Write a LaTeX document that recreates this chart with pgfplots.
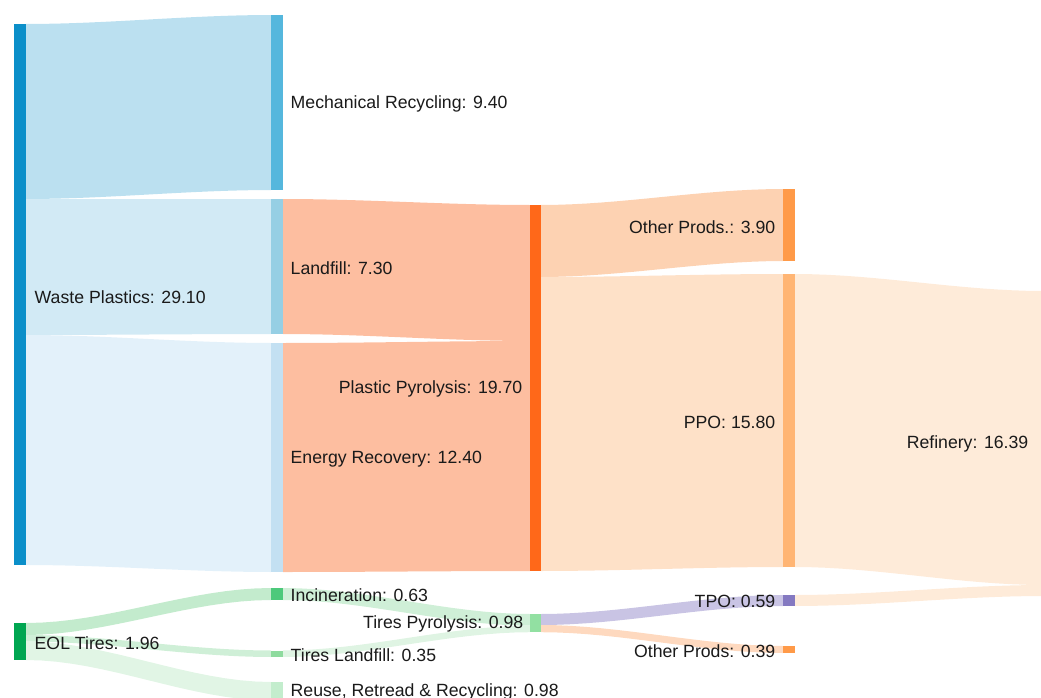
\documentclass[border=0pt]{standalone}
\usepackage{fontspec}
\setmainfont{Liberation Sans}
\usepackage{pgfplots}
\pgfplotsset{compat=1.18}

% node colours
\definecolor{nWaste}{HTML}{0B8FC9}
\definecolor{nMech}{HTML}{55B7DD}
\definecolor{nLand}{HTML}{96CFE4}
\definecolor{nEnergy}{HTML}{C3E0F2}
\definecolor{nPP}{HTML}{FF6819}
\definecolor{nOther}{HTML}{FF9A48}
\definecolor{nPPO}{HTML}{FFB574}
\definecolor{nTPO}{HTML}{8479C1}
\definecolor{nEOL}{HTML}{00A651}
\definecolor{nIncin}{HTML}{4DC97B}
\definecolor{nTLand}{HTML}{8EDB9E}
\definecolor{nReuse}{HTML}{C3EDCD}
\definecolor{nTP}{HTML}{92E0A2}
% link colours
\definecolor{fMech}{HTML}{BBE0F0}
\definecolor{fLand}{HTML}{D2EAF5}
\definecolor{fEnergy}{HTML}{E3F1FA}
\definecolor{fPP}{HTML}{FDBEA0}
\definecolor{fOther}{HTML}{FDD2B2}
\definecolor{fPPO}{HTML}{FEE1C8}
\definecolor{fRef}{HTML}{FEEBD9}
\definecolor{fIncin}{HTML}{C3EBCD}
\definecolor{fTLand}{HTML}{CFEFD7}
\definecolor{fReuse}{HTML}{E1F5E5}
\definecolor{fTP1}{HTML}{CFEFD7}
\definecolor{fTP2}{HTML}{DFF4E3}
\definecolor{fTPO}{HTML}{C9C4E4}
\definecolor{fOther2}{HTML}{FED9BF}
\definecolor{labc}{HTML}{1A1A1A}

% link band: x0, x1, source top, source bottom, target top, target bottom, colour
\newcommand{\flow}[7]{%
  \gdef\pts{}%
  \foreach \i in {0,...,16}{%
    \pgfmathsetmacro\u{\i/16}%
    \pgfmathsetmacro\xx{#1+\u*(#2-#1)}%
    \pgfmathsetmacro\yy{#3+(#5-#3)*(3*\u*\u-2*\u*\u*\u)}%
    \xdef\pts{\pts(\xx,\yy)}%
  }%
  \foreach \i in {16,...,0}{%
    \pgfmathsetmacro\u{\i/16}%
    \pgfmathsetmacro\xx{#1+\u*(#2-#1)}%
    \pgfmathsetmacro\yy{#4+(#6-#4)*(3*\u*\u-2*\u*\u*\u)}%
    \xdef\pts{\pts(\xx,\yy)}%
  }%
  \edef\tmp{\noexpand\addplot[draw=none,fill=#7] coordinates {\pts};}\tmp
}
% node rectangle: x0, x1, top, bottom, colour
\newcommand{\nodebar}[5]{%
  \addplot[draw=none,fill=#5] coordinates {(#1,#3) (#2,#3) (#2,#4) (#1,#4)};}

\tikzset{lab/.style={inner sep=0pt, text=labc, font=\fontsize{5.03}{6}\selectfont}}

\begin{document}
\begin{tikzpicture}
\begin{axis}[
    width=10.41cm, height=6.98cm, scale only axis,
    xmin=0, xmax=1041, ymin=0, ymax=698,
    y dir=reverse,
    hide axis,
    clip=true,
]
% links
\flow{26}{271}{24}{199}{15}{190}{fMech}
\flow{26}{271}{199}{335}{199}{334}{fLand}
\flow{26}{271}{335}{565}{343}{572}{fEnergy}
\flow{283}{530}{199}{334}{205}{341}{fPP}
\flow{283}{530}{343}{572}{341}{571}{fPP}
\flow{541}{783}{205}{277}{189}{261}{fOther}
\flow{541}{783}{277}{571}{274}{567}{fPPO}
\flow{795}{1043}{274}{567}{291}{585}{fRef}
\flow{795}{1043}{595}{606}{585}{596}{fRef}
\flow{26}{271}{623}{635}{588}{600}{fIncin}
\flow{26}{271}{635}{641.5}{650.5}{657}{fTLand}
\flow{26}{271}{641.5}{660}{682}{700.5}{fReuse}
\flow{283}{530}{588}{600}{614}{625.7}{fTP1}
\flow{283}{530}{650.5}{657}{625.7}{632.2}{fTP2}
\flow{541}{783}{614}{625}{595}{606}{fTPO}
\flow{541}{783}{625}{632.2}{646}{653}{fOther2}
% nodes
\nodebar{14}{26}{24}{565}{nWaste}
\nodebar{14}{26}{623}{660}{nEOL}
\nodebar{271}{283}{15}{190}{nMech}
\nodebar{271}{283}{199}{334}{nLand}
\nodebar{271}{283}{343}{572}{nEnergy}
\nodebar{271}{283}{588}{600}{nIncin}
\nodebar{271}{283}{650.5}{657}{nTLand}
\nodebar{271}{283}{682}{700.5}{nReuse}
\nodebar{530}{541}{205}{571}{nPP}
\nodebar{530}{541}{614}{632.2}{nTP}
\nodebar{783}{795}{189}{261}{nOther}
\nodebar{783}{795}{274}{567}{nPPO}
\nodebar{783}{795}{595}{606}{nTPO}
\nodebar{783}{795}{646}{653}{nOther}
% labels
\node[lab,anchor=west] at (axis cs:34,297) {Waste Plastics: 29.10};
\node[lab,anchor=west] at (axis cs:34,643) {EOL Tires: 1.96};
\node[lab,anchor=west] at (axis cs:290,104) {Mechanical Recycling: 9.40};
\node[lab,anchor=west] at (axis cs:290,268) {Landfill: 7.30};
\node[lab,anchor=west] at (axis cs:290,459) {Energy Recovery: 12.40};
\node[lab,anchor=west] at (axis cs:290,595) {Incineration: 0.63};
\node[lab,anchor=west] at (axis cs:290,655) {Tires Landfill: 0.35};
\node[lab,anchor=west] at (axis cs:290,692) {Reuse, Retread \& Recycling: 0.98};
\node[lab,anchor=east] at (axis cs:523,389) {Plastic Pyrolysis: 19.70};
\node[lab,anchor=east] at (axis cs:524,624) {Tires Pyrolysis: 0.98};
\node[lab,anchor=east] at (axis cs:776,227) {Other Prods.: 3.90};
\node[lab,anchor=east] at (axis cs:776,422) {PPO: 15.80};
\node[lab,anchor=east] at (axis cs:776,601) {TPO: 0.59};
\node[lab,anchor=east] at (axis cs:776,651) {Other Prods: 0.39};
\node[lab,anchor=east] at (axis cs:1029,444) {Refinery: 16.39};
\end{axis}
\pgfresetboundingbox
\path (0,0) rectangle (10.41cm,6.98cm);
\end{tikzpicture}
\end{document}
